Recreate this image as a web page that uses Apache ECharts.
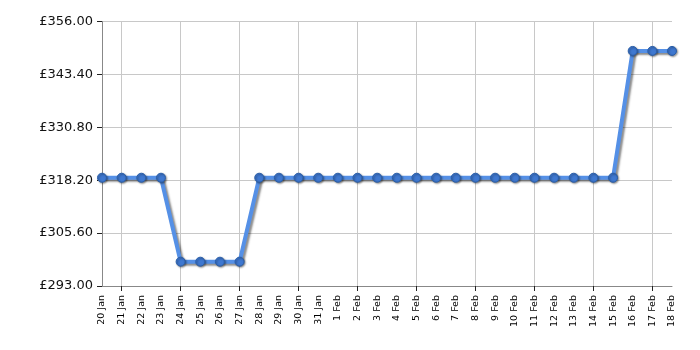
<!DOCTYPE html>
<html><head><meta charset="utf-8">
<script src="https://cdn.jsdelivr.net/npm/echarts@6/dist/echarts.min.js"></script>
<style>html,body{margin:0;padding:0;background:#fff}#c{width:700px;height:350px}</style>
</head><body><div id="c"></div>
<script>
const categories = ['20 Jan','21 Jan','22 Jan','23 Jan','24 Jan','25 Jan','26 Jan','27 Jan','28 Jan','29 Jan','30 Jan','31 Jan','1 Feb','2 Feb','3 Feb','4 Feb','5 Feb','6 Feb','7 Feb','8 Feb','9 Feb','10 Feb','11 Feb','12 Feb','13 Feb','14 Feb','15 Feb','16 Feb','17 Feb','18 Feb'];
const prices = [318.79,318.79,318.79,318.79,298.79,298.79,298.79,298.79,318.79,318.79,318.79,318.79,318.79,318.79,318.79,318.79,318.79,318.79,318.79,318.79,318.79,318.79,318.79,318.79,318.79,318.79,318.79,348.99,348.99,348.99];
const yMin = 293, yMax = 356, yStep = 12.6;

const chart = echarts.init(document.getElementById('c'));
chart.setOption({
  animation: false,
  grid: {left: 102, right: 28, top: 21.5, bottom: 64},
  xAxis: {
    type: 'category', data: categories, boundaryGap: false,
    axisLine: {lineStyle: {color: '#888'}},
    axisTick: {show: true, length: 5, lineStyle: {color: '#222'}, interval: (i) => i % 3 === 1},
    axisLabel: {rotate: 90, interval: 0, fontSize: 9.5, fontFamily: 'DejaVu Sans', color: '#000', margin: 9},
    splitLine: {show: true, interval: (i) => i % 3 === 1, lineStyle: {color: '#c8c8c8'}}
  },
  yAxis: {
    type: 'value', min: yMin, max: yMax, interval: yStep,
    axisLine: {show: true, lineStyle: {color: '#888'}},
    axisTick: {show: true, length: 5, lineStyle: {color: '#222'}},
    axisLabel: {fontSize: 13, fontFamily: 'DejaVu Sans', color: '#111', margin: 9,
      formatter: (v) => '£' + v.toFixed(2)},
    splitLine: {show: true, lineStyle: {color: '#c8c8c8'}}
  },
  series: [{
    type: 'line', data: prices,
    symbol: 'circle', symbolSize: 9,
    lineStyle: {color: '#5590e6', width: 4, shadowColor: 'rgba(0,0,0,0.45)', shadowBlur: 2, shadowOffsetX: 2, shadowOffsetY: 2},
    itemStyle: {color: '#3f78d0', borderColor: '#2a5ea8', borderWidth: 1, shadowColor: 'rgba(0,0,0,0.4)', shadowBlur: 2, shadowOffsetX: 1, shadowOffsetY: 1}
  }]
});
</script></body></html>
